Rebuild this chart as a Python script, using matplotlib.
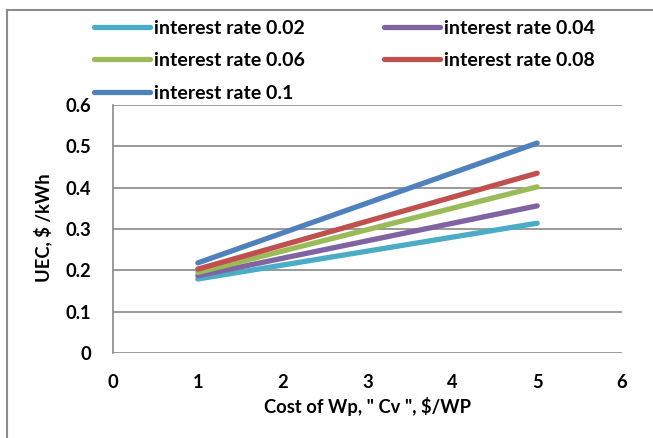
import matplotlib.pyplot as plt
from matplotlib.lines import Line2D

# ---------------------------------------------------------
# Data
# ---------------------------------------------------------
cost_wp = [1, 5]

uec_002 = [0.179, 0.314]
uec_004 = [0.187, 0.356]
uec_006 = [0.195, 0.402]
uec_008 = [0.203, 0.435]
uec_010 = [0.218, 0.508]

series_labels = [
    "interest rate 0.02",
    "interest rate 0.04",
    "interest rate 0.06",
    "interest rate 0.08",
    "interest rate 0.1",
]
series_colors = ["#4BACC6", "#8064A2", "#9BBB59", "#C0504D", "#4F81BD"]
series_values = [uec_002, uec_004, uec_006, uec_008, uec_010]

x_ticks = [0, 1, 2, 3, 4, 5, 6]
y_ticks = [0, 0.1, 0.2, 0.3, 0.4, 0.5, 0.6]

# ---------------------------------------------------------
# Figure
# ---------------------------------------------------------
plt.rcParams["font.family"] = ["Lato", "DejaVu Sans"]
plt.rcParams["font.weight"] = "bold"

FS = 13.2

W, H = 653, 438
fig = plt.figure(figsize=(W / 100, H / 100), dpi=100)

left, right, top, bottom = 113, 622, 105, 353
ax = fig.add_axes([
    left / W,
    1 - bottom / H,
    (right - left) / W,
    (bottom - top) / H,
])

grid_color = "#898989"

for values, color in zip(series_values, series_colors):
    ax.plot(
        cost_wp,
        values,
        color=color,
        linewidth=3.8,
        solid_capstyle="round",
        zorder=3,
    )

ax.set_xlim(0, 6)
ax.set_ylim(0, 0.6)
ax.set_xticks(x_ticks)
ax.set_yticks(y_ticks)
ax.set_xticklabels([str(v) for v in x_ticks])
ax.set_yticklabels(["0" if v == 0 else f"{v:.1f}" for v in y_ticks])

ax.grid(axis="y", color=grid_color, linewidth=1.2)
ax.set_axisbelow(True)

for side in ["top", "right", "bottom"]:
    ax.spines[side].set_visible(False)
ax.spines["left"].set_color(grid_color)
ax.spines["left"].set_linewidth(1.2)

ax.tick_params(axis="both", length=0, labelsize=FS, colors="black")
ax.tick_params(axis="x", pad=15)
ax.tick_params(axis="y", pad=16)

# Axis titles placed in figure pixels
fig.text(
    (left + right) / 2 / W,
    1 - 407 / H,
    'Cost of Wp, " Cv ", $/WP',
    ha="center",
    va="center",
    fontsize=FS,
    fontweight="bold",
)
fig.text(
    43 / W,
    1 - 228 / H,
    "UEC, $ /kWh",
    rotation=90,
    ha="center",
    va="center",
    fontsize=FS,
    fontweight="bold",
)

# Legend: two columns, filled column by column
order = [0, 2, 4, 1, 3]
handles = [
    Line2D([], [], color=series_colors[i], linewidth=3.8, solid_capstyle="round")
    for i in order
]
labels = [series_labels[i] for i in order]

fig.legend(
    handles,
    labels,
    ncol=2,
    loc="upper left",
    bbox_to_anchor=(84 / W, 1 - 10 / H),
    frameon=False,
    fontsize=14,
    handlelength=2.9,
    handletextpad=0.2,
    columnspacing=4.07,
    labelspacing=0.8,
    borderpad=0,
)

# Outer chart border (top and left visible)
fig.add_artist(Line2D([7 / W, 7 / W], [0, 1 - 10 / H], color="#8c8c8c", linewidth=1.5))
fig.add_artist(Line2D([7 / W, 1], [1 - 10 / H, 1 - 10 / H], color="#8c8c8c", linewidth=1.5))

plt.savefig("out.png", dpi=100)
plt.close()
